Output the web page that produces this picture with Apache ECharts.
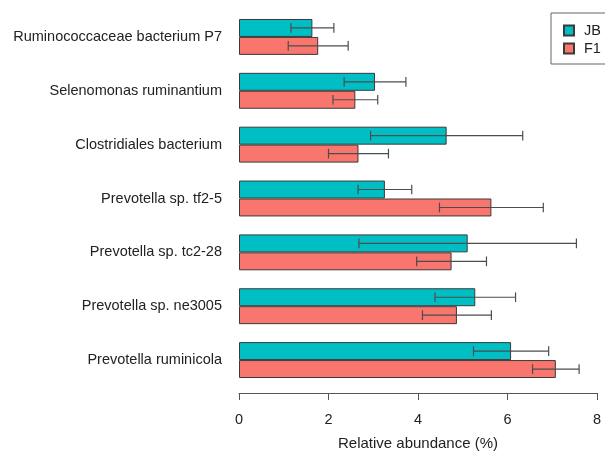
<!DOCTYPE html>
<html>
<head>
<meta charset="utf-8">
<script src="https://cdn.jsdelivr.net/npm/echarts@6/dist/echarts.min.js"></script>
<style>
  html, body { margin: 0; padding: 0; background: #fff; }
  #chart { width: 605px; height: 459px; }
</style>
</head>
<body>
<div id="chart"></div>
<script>
// Species, listed top to bottom
const species = [
  'Ruminococcaceae bacterium P7',
  'Selenomonas ruminantium',
  'Clostridiales bacterium',
  'Prevotella sp. tf2-5',
  'Prevotella sp. tc2-28',
  'Prevotella sp. ne3005',
  'Prevotella ruminicola'
];

// Mean relative abundance (%) and error (±) per group
const jbMean = [1.64, 3.04, 4.64, 3.26, 5.11, 5.28, 6.08];
const jbErr  = [0.48, 0.69, 1.70, 0.60, 2.43, 0.90, 0.84];
const f1Mean = [1.77, 2.60, 2.67, 5.64, 4.75, 4.87, 7.08];
const f1Err  = [0.67, 0.50, 0.67, 1.16, 0.78, 0.77, 0.52];

const xTicks = [0, 2, 4, 6, 8];

const JB_COLOR = '#00BFC4';
const F1_COLOR = '#F8766D';
const FONT = '"Liberation Sans", Arial, sans-serif';

function errorRows(mean, err) {
  return mean.map((m, i) => [i, m - err[i], m + err[i]]);
}

// Error bar drawn at the centre of one of the two bars in a category band.
// side = -1 puts it on the upper bar, +1 on the lower bar.
function errorRenderer(side) {
  return function (params, api) {
    const yi = api.value(0);
    const lo = api.coord([api.value(1), yi]);
    const hi = api.coord([api.value(2), yi]);
    const band = api.size([0, 1])[1];
    const y = lo[1] + side * band / 6;
    const cap = band * 0.09;
    const style = { stroke: '#4d4d4d', lineWidth: 1.2 };
    return {
      type: 'group',
      children: [
        { type: 'line', shape: { x1: lo[0], y1: y, x2: hi[0], y2: y }, style: style },
        { type: 'line', shape: { x1: lo[0], y1: y - cap, x2: lo[0], y2: y + cap }, style: style },
        { type: 'line', shape: { x1: hi[0], y1: y - cap, x2: hi[0], y2: y + cap }, style: style }
      ]
    };
  };
}

const chart = echarts.init(document.getElementById('chart'), null, { renderer: 'canvas' });

chart.setOption({
  animation: false,
  textStyle: { fontFamily: FONT },
  grid: { left: 239, right: 8, top: 10, bottom: 72, containLabel: false },
  legend: {
    orient: 'vertical',
    left: 551,
    top: 13,
    padding: [10, 40, 8, 12],
    borderColor: '#666',
    borderWidth: 1,
    icon: 'rect',
    itemWidth: 10,
    itemHeight: 10,
    itemGap: 3,
    textStyle: { fontSize: 14.5, color: '#222', fontFamily: FONT, padding: [0, 0, 0, 5] },
    data: ['JB', 'F1']
  },
  xAxis: {
    type: 'value',
    min: xTicks[0],
    max: xTicks[xTicks.length - 1],
    interval: 2,
    offset: 6,
    splitLine: { show: false },
    axisLine: { show: true, lineStyle: { color: '#555', width: 1 } },
    axisTick: { show: true, length: 7, lineStyle: { color: '#555' } },
    axisLabel: { fontSize: 14.5, color: '#222', margin: 19, fontFamily: FONT },
    name: 'Relative abundance (%)',
    nameLocation: 'middle',
    nameGap: 43,
    nameTextStyle: { fontSize: 15, color: '#222', fontFamily: FONT }
  },
  yAxis: {
    type: 'category',
    inverse: true,
    data: species,
    axisLine: { show: false },
    axisTick: { show: false },
    axisLabel: { fontSize: 14.5, color: '#222', margin: 17, fontFamily: FONT }
  },
  series: [
    {
      name: 'JB',
      type: 'bar',
      data: jbMean,
      barWidth: '33.333%',
      barGap: '0%',
      itemStyle: { color: JB_COLOR, borderColor: '#3a3a3a', borderWidth: 1 }
    },
    {
      name: 'F1',
      type: 'bar',
      data: f1Mean,
      barWidth: '33.333%',
      barGap: '0%',
      itemStyle: { color: F1_COLOR, borderColor: '#3a3a3a', borderWidth: 1 }
    },
    {
      type: 'custom',
      renderItem: errorRenderer(-1),
      encode: { x: [1, 2], y: 0 },
      data: errorRows(jbMean, jbErr),
      z: 10
    },
    {
      type: 'custom',
      renderItem: errorRenderer(1),
      encode: { x: [1, 2], y: 0 },
      data: errorRows(f1Mean, f1Err),
      z: 10
    }
  ]
});
</script>
</body>
</html>
